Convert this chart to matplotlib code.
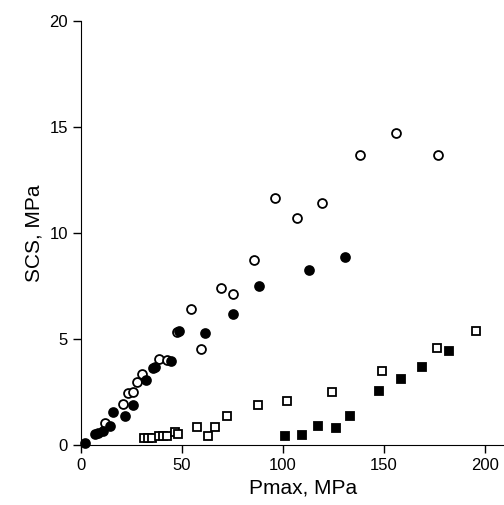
import matplotlib
matplotlib.use("Agg")
import matplotlib.pyplot as plt

plt.rcParams['font.family'] = ['Liberation Sans', 'DejaVu Sans']

# open circles
oc_x = [11.9, 20.6, 23.4, 25.9, 27.6, 30.0, 38.6, 42.4, 47.5, 54.6, 59.7, 69.2, 75.4, 85.6, 96.0, 107.1, 119.6, 138.4, 155.9, 176.9]
oc_y = [1.02, 1.92, 2.44, 2.52, 2.99, 3.33, 4.06, 4.00, 5.35, 6.42, 4.52, 7.39, 7.11, 8.73, 11.67, 10.72, 11.42, 13.66, 14.70, 13.66]

# filled circles
fc_x = [2.0, 6.9, 8.6, 11.0, 14.4, 16.0, 21.8, 25.6, 32.0, 35.5, 36.6, 44.4, 48.5, 61.4, 75.4, 88.0, 112.9, 131.0]
fc_y = [0.08, 0.52, 0.55, 0.68, 0.91, 1.54, 1.38, 1.89, 3.07, 3.62, 3.68, 3.94, 5.40, 5.30, 6.18, 7.50, 8.25, 8.88]

# open squares
os_x = [31.2, 33.3, 35.0, 38.8, 40.7, 42.4, 46.5, 48.2, 57.5, 63.0, 66.3, 72.1, 87.5, 102.1, 124.4, 149.2, 176.2, 195.7]
os_y = [0.33, 0.33, 0.33, 0.44, 0.44, 0.44, 0.60, 0.52, 0.85, 0.44, 0.86, 1.38, 1.90, 2.08, 2.52, 3.49, 4.56, 5.38]

# filled squares
fs_x = [101.1, 109.6, 117.5, 126.4, 133.3, 147.5, 158.7, 169.1, 182.5]
fs_y = [0.42, 0.46, 0.91, 0.82, 1.37, 2.55, 3.10, 3.69, 4.45]

fig = plt.figure(figsize=(5.04, 5.05), dpi=100)
# axes runs past the right edge (cropped in the original)
ax = fig.add_axes([0.1607, 0.1188, 0.881, 0.8396])

ax.plot(oc_x, oc_y, 'o', ms=6.4, mfc='white', mec='black', mew=1.3, clip_on=False)
ax.plot(fc_x, fc_y, 'o', ms=6.4, mfc='black', mec='black', mew=1.3, clip_on=False)
ax.plot(os_x, os_y, 's', ms=5.6, mfc='white', mec='black', mew=1.3, clip_on=False)
ax.plot(fs_x, fs_y, 's', ms=5.6, mfc='black', mec='black', mew=1.3, clip_on=False)

ax.set_xlim(0, 220)
ax.set_ylim(0, 20)
ax.set_xticks([0, 50, 100, 150, 200])
ax.set_yticks([0, 5, 10, 15, 20])
ax.spines['top'].set_visible(False)
ax.spines['right'].set_visible(False)
ax.tick_params(direction='out', length=6, width=1, labelsize=12)
ax.set_xlabel('Pmax, MPa', fontsize=15)
ax.set_ylabel('SCS, MPa', fontsize=15)

fig.savefig('out.png', dpi=100)
